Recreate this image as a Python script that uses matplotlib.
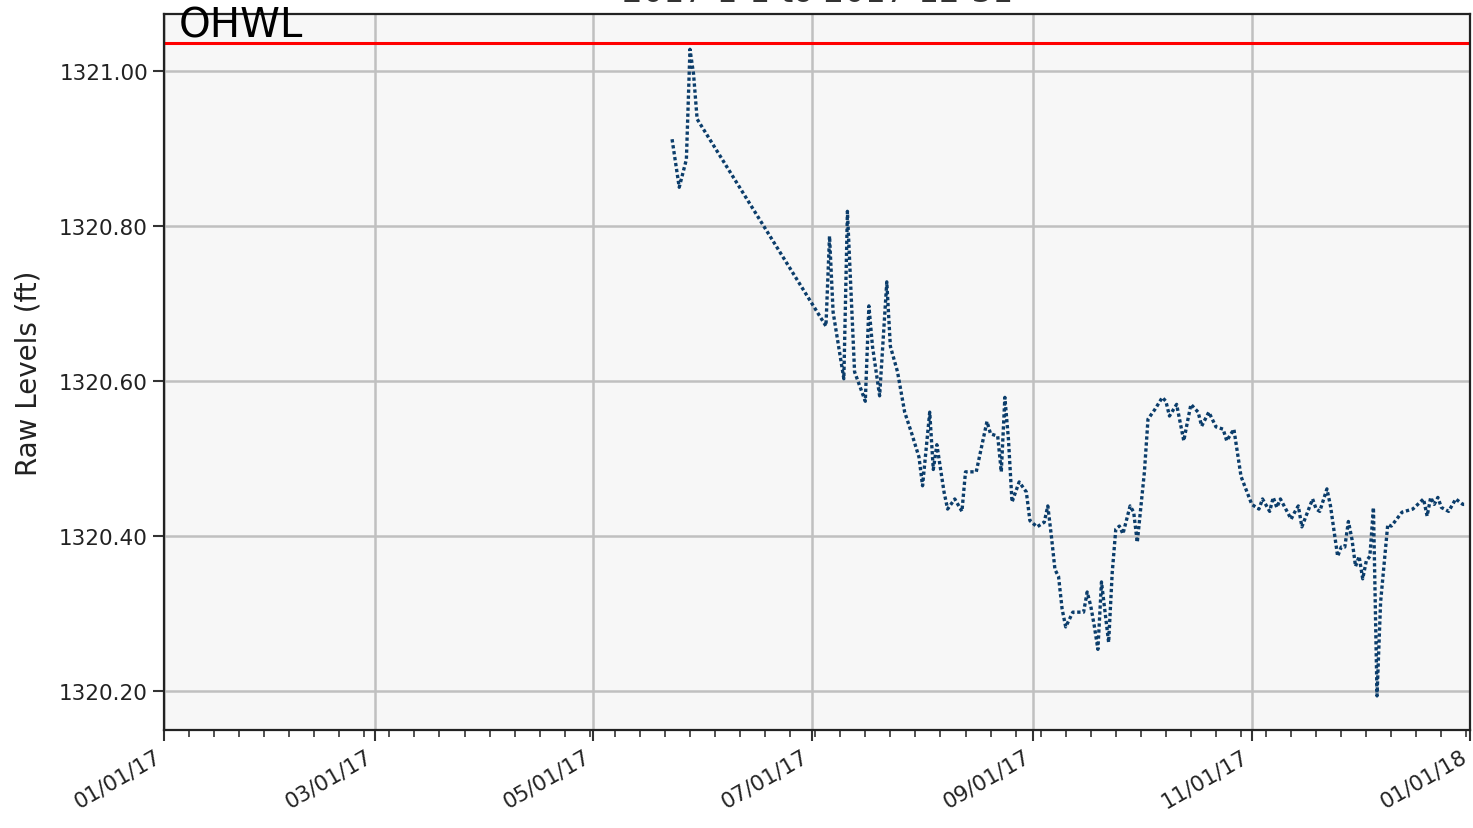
import matplotlib
matplotlib.use("Agg")
import matplotlib.pyplot as plt
import matplotlib.dates as mdates
import pandas as pd

# ---- data (day offset from 2017-01-01, raw level in ft) ----
day_offsets = [142, 144, 146, 147, 148, 149,
               185, 186, 187, 190, 191, 193, 196, 197, 198, 200, 202, 203, 205, 207,
               209, 211, 212, 214, 215, 216, 218, 219, 221, 223, 224, 227, 230, 231,
               233, 234, 235, 236, 237, 239, 241, 242, 244, 246, 247, 248, 249, 250,
               251, 252, 254, 257, 258, 259, 260, 261, 262, 263, 264, 265, 266, 267,
               268, 270, 271, 272, 274, 275, 277, 279, 280, 281, 283, 285, 286, 287,
               289, 290, 292, 294, 296, 297, 299, 301, 304, 306, 307, 309, 310, 311,
               312, 315, 316, 317, 318, 321, 322, 323, 325, 326, 328, 329, 330, 331,
               332, 333, 334, 335, 336, 337, 338, 339, 340, 342, 343, 346, 349, 352,
               353, 354, 355, 356, 357, 359, 361, 363, 364]
raw_levels = [1320.912, 1320.850, 1320.886, 1321.028, 1320.996, 1320.938,
              1320.671, 1320.787, 1320.689, 1320.603, 1320.819, 1320.612, 1320.574,
              1320.697, 1320.645, 1320.581, 1320.728, 1320.645, 1320.612, 1320.560,
              1320.532, 1320.502, 1320.465, 1320.560, 1320.486, 1320.518, 1320.457,
              1320.435, 1320.448, 1320.432, 1320.483, 1320.483, 1320.548, 1320.532,
              1320.529, 1320.483, 1320.579, 1320.525, 1320.444, 1320.470, 1320.457,
              1320.420, 1320.412, 1320.418, 1320.439, 1320.400, 1320.357, 1320.348,
              1320.306, 1320.283, 1320.302, 1320.302, 1320.328, 1320.310, 1320.284,
              1320.254, 1320.341, 1320.302, 1320.263, 1320.353, 1320.409, 1320.413,
              1320.403, 1320.439, 1320.431, 1320.392, 1320.483, 1320.551, 1320.564,
              1320.579, 1320.574, 1320.555, 1320.570, 1320.523, 1320.547, 1320.570,
              1320.560, 1320.542, 1320.560, 1320.541, 1320.538, 1320.523, 1320.538,
              1320.477, 1320.441, 1320.435, 1320.448, 1320.432, 1320.450, 1320.437,
              1320.448, 1320.422, 1320.431, 1320.439, 1320.412, 1320.448, 1320.435,
              1320.432, 1320.461, 1320.439, 1320.374, 1320.386, 1320.386, 1320.419,
              1320.396, 1320.361, 1320.374, 1320.345, 1320.368, 1320.374, 1320.437,
              1320.194, 1320.315, 1320.415, 1320.413, 1320.431, 1320.435, 1320.448,
              1320.426, 1320.450, 1320.441, 1320.450, 1320.437, 1320.432, 1320.448,
              1320.441, 1320.441]
ohwl_level = 1321.036
ohwl_label = "OHWL"
title_text = "2017-1-1 to 2017-12-31"
y_label = "Raw Levels (ft)"
x_start, x_end = "2017-01-01", "2018-01-01"

dates = pd.Timestamp(x_start) + pd.to_timedelta(day_offsets, unit="D")

fig = plt.figure(figsize=(14.73, 8.29), dpi=100)
ax = fig.add_axes([0.1113, 0.1182, 0.8867, 0.8637])
ax.set_facecolor("#f7f7f7")

ax.plot(dates, raw_levels, linestyle=(0, (1.0, 0.8)), color="#0b3d6b", linewidth=2.4)
ax.axhline(ohwl_level, color="#ff0000", linewidth=2.2)
ax.text(pd.Timestamp("2017-01-05"), ohwl_level + 0.008, ohwl_label,
        fontsize=29, color="black", va="baseline", ha="left")

ax.set_xlim(pd.Timestamp(x_start), pd.Timestamp(x_end))
ax.set_ylim(1320.15, 1321.0735)
ax.set_yticks([1320.2, 1320.4, 1320.6, 1320.8, 1321.0])
ax.yaxis.set_major_formatter(matplotlib.ticker.FormatStrFormatter("%.2f"))

ax.xaxis.set_major_locator(mdates.MonthLocator(bymonth=[1, 3, 5, 7, 9, 11]))
ax.xaxis.set_major_formatter(mdates.DateFormatter("%m/%d/%y"))
ax.xaxis.set_minor_locator(mdates.WeekdayLocator(byweekday=mdates.SU))

ax.grid(True, which="major", color="#c0c0c0", linewidth=1.8)
ax.set_axisbelow(True)

ax.tick_params(axis="both", which="major", labelsize=15.5, length=8, width=1.5,
               color="#333333", labelcolor="#222222")
ax.tick_params(axis="x", which="minor", length=5, width=1.2, color="#333333")
for lbl in ax.get_xticklabels():
    lbl.set_rotation(30)
    lbl.set_ha("right")

ax.set_ylabel(y_label, fontsize=20, color="#222222", labelpad=12)

for sp in ax.spines.values():
    sp.set_color("#222222")
    sp.set_linewidth(1.6)

fig.text(0.5547, 0.998, title_text, fontsize=23.5, color="#333333",
         ha="center", va="baseline")

fig.savefig("out.png", dpi=100)
